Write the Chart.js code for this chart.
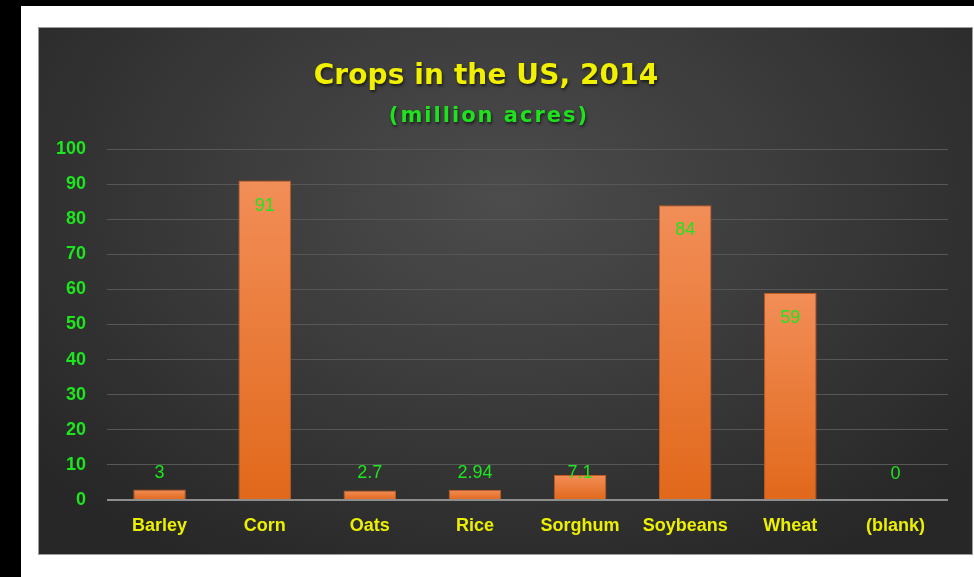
<!DOCTYPE html>
<html>
<head>
<meta charset="utf-8">
<title>Crops in the US, 2014</title>
<script src="https://cdn.jsdelivr.net/npm/chart.js@4.4.1/dist/chart.umd.min.js"></script>
<style>
  html, body { margin: 0; padding: 0; background: #fff; }
  body { width: 974px; height: 577px; position: relative; overflow: hidden; }
  .top-band { position: absolute; left: 0; top: 0; width: 974px; height: 6px; background: #000; }
  .left-band { position: absolute; left: 0; top: 0; width: 21px; height: 577px; background: #000; }
  .panel {
    position: absolute; left: 38px; top: 27px; width: 933px; height: 526px;
    border: 1px solid #9c9c9c;
    background: radial-gradient(ellipse 65% 80% at 50% 32%, #4c4c4c 0%, #3c3c3c 45%, #272727 100%);
  }
  .panel canvas { display: block; }
</style>
</head>
<body>
<div class="top-band"></div>
<div class="left-band"></div>
<div class="panel"><canvas id="cropsChart" width="933" height="526"></canvas></div>

<script>
// données du graphique
const categories = ['Barley', 'Corn', 'Oats', 'Rice', 'Sorghum', 'Soybeans', 'Wheat', '(blank)'];
const acres = [3, 91, 2.7, 2.94, 7.1, 84, 59, 0];
const yMin = 0;
const yMax = 100;
const yStep = 10;

const titleText = 'Crops in the US, 2014';
const subtitleText = '(million acres)';

// titre dessiné à la main (espacement des lettres + ombre)
const titlePlugin = {
  id: 'excelTitle',
  afterDraw(chart) {
    const ctx = chart.ctx;
    ctx.save();
    ctx.textAlign = 'center';
    ctx.textBaseline = 'alphabetic';
    ctx.shadowColor = 'rgba(0,0,0,0.6)';
    ctx.shadowBlur = 3;
    ctx.shadowOffsetX = 1;
    ctx.shadowOffsetY = 2;

    ctx.font = 'bold 28px "DejaVu Sans"';
    ctx.letterSpacing = '0.1px';
    ctx.fillStyle = '#f0f000';
    ctx.fillText(titleText, 447, 56);

    ctx.font = 'bold 21px "DejaVu Sans"';
    ctx.letterSpacing = '2px';
    ctx.fillStyle = '#1ee21e';
    ctx.fillText(subtitleText, 450, 94);
    ctx.restore();
  }
};

// étiquettes de valeurs (style "extrémité intérieure" d'Excel)
const valueLabelPlugin = {
  id: 'valueLabels',
  afterDatasetsDraw(chart) {
    const ctx = chart.ctx;
    const meta = chart.getDatasetMeta(0);
    ctx.save();
    ctx.font = '18px "Liberation Sans"';
    ctx.fillStyle = '#1ee61e';
    ctx.textAlign = 'center';
    ctx.textBaseline = 'middle';
    meta.data.forEach((bar, i) => {
      const y = Math.min(bar.y + 25, bar.base - 26);
      ctx.fillText(String(acres[i]), bar.x, y);
    });
    ctx.restore();
  }
};

function barGradient(context) {
  const chart = context.chart;
  if (!chart.chartArea) return '#e8772f';
  const yScale = chart.scales.y;
  const top = yScale.getPixelForValue(context.raw);
  const base = yScale.getPixelForValue(0);
  if (base - top < 1) return '#f08a50';
  const g = chart.ctx.createLinearGradient(0, top, 0, base);
  g.addColorStop(0, '#f28e58');
  g.addColorStop(1, '#e1681b');
  return g;
}

const ctx = document.getElementById('cropsChart').getContext('2d');
new Chart(ctx, {
  type: 'bar',
  data: {
    labels: categories,
    datasets: [{
      data: acres,
      backgroundColor: barGradient,
      borderColor: '#c25a22',
      borderWidth: 1,
      borderSkipped: 'bottom',
      barPercentage: 0.5,
      categoryPercentage: 1
    }]
  },
  options: {
    responsive: false,
    animation: false,
    layout: { padding: { top: 121, left: 17, right: 24, bottom: 0 } },
    plugins: {
      legend: { display: false },
      tooltip: { enabled: false },
      title: { display: false }
    },
    scales: {
      x: {
        grid: { display: false, drawTicks: false },
        border: { display: false },
        ticks: {
          color: '#ecf000',
          padding: 15,
          font: { family: '"Liberation Sans"', size: 18, weight: 'bold' },
          maxRotation: 0
        },
        afterFit(scale) { scale.height = 54; }
      },
      y: {
        min: yMin,
        max: yMax,
        grid: {
          drawTicks: false,
          color: (c) => (c.tick && c.tick.value === 0 ? '#8e8e8e' : '#575757'),
          lineWidth: (c) => (c.tick && c.tick.value === 0 ? 2 : 1)
        },
        border: { display: false },
        ticks: {
          stepSize: yStep,
          color: '#1ee61e',
          padding: 21,
          font: { family: '"Liberation Sans"', size: 18, weight: 'bold' }
        },
        afterFit(scale) { scale.width = 51; }
      }
    }
  },
  plugins: [titlePlugin, valueLabelPlugin]
});
</script>
</body>
</html>
